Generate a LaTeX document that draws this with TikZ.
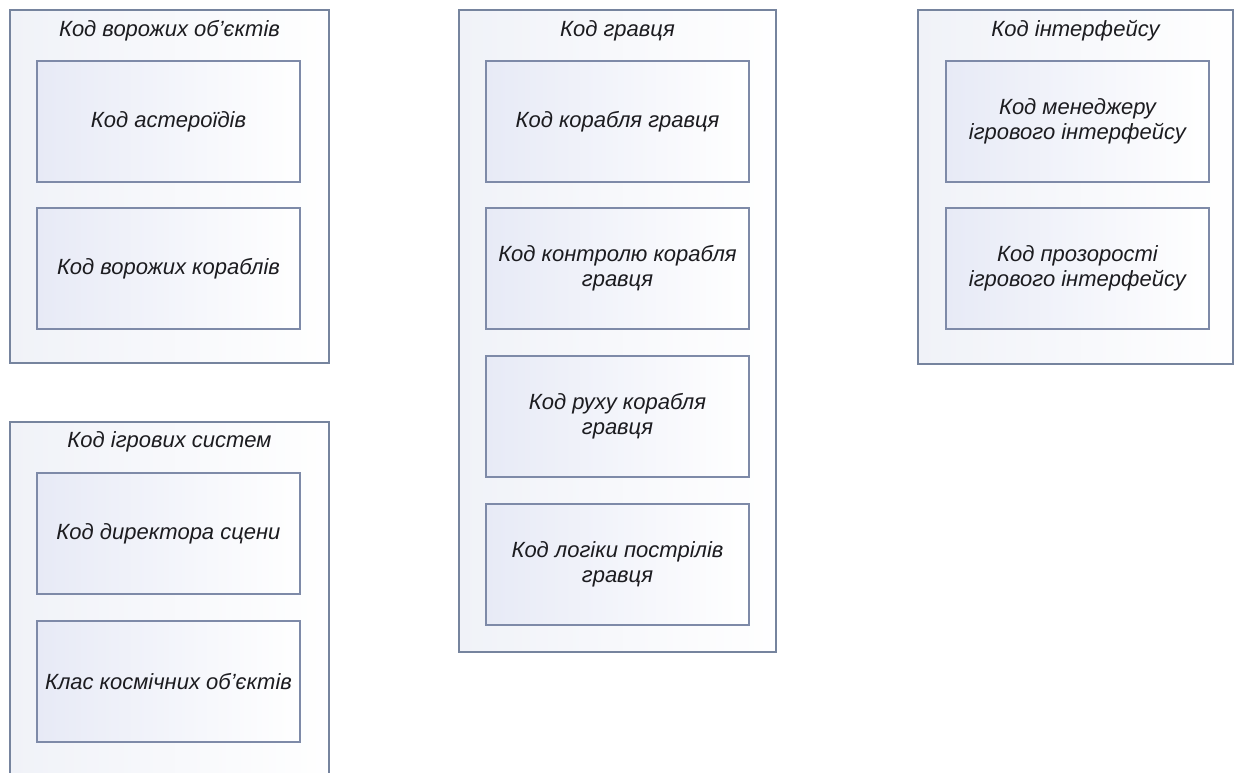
\documentclass[tikz,border=0pt]{standalone}
\usepackage{fontspec}
\setmainfont{Liberation Sans}
\begin{document}
\definecolor{frame}{RGB}{118,132,158}
\definecolor{boxedge}{RGB}{126,138,168}
\definecolor{panelfill}{RGB}{240,242,248}
\definecolor{boxtint}{RGB}{231,234,246}
\definecolor{ink}{RGB}{28,28,32}
\begin{tikzpicture}[x=1bp,y=-1bp,
  panel/.style={draw=frame,line width=1.2bp,rectangle,inner sep=0pt,
    left color=panelfill,right color=white!97!panelfill},
  part/.style={draw=boxedge,line width=1.2bp,rectangle,inner sep=0pt,
    minimum width=263bp,minimum height=121bp,
    shading angle=-60,left color=boxtint,right color=white,
    font=\fontsize{22bp}{25bp}\selectfont\itshape,text=ink,align=center},
  label/.style={font=\fontsize{22bp}{25bp}\selectfont\itshape,text=ink,inner sep=0pt},
  title/.style={font=\fontsize{22bp}{25bp}\selectfont\itshape,text=ink,inner sep=0pt}]
\fill[white] (0,0) rectangle (1241,773);
\clip (0,0) rectangle (1241,773);
\useasboundingbox (0,0) rectangle (1241,773);

% enemy objects
\node[panel,minimum width=319bp,minimum height=353bp] (enemy) at (169.5,186.5) {};
\node[title] (enemyT) at (169.5,31) {Код ворожих об’єктів};
\node[part] (ast) at (168.5,121.5) {};
\node[label] (astL) at (168.5,122) {Код астероїдів};
\node[part] (ships) at (168.5,268.5) {};
\node[label] (shipsL) at (168.5,269) {Код ворожих кораблів};

% game systems (runs past the lower edge)
\node[panel,minimum width=319bp,minimum height=380bp] (sys) at (169.5,612) {};
\node[title] (sysT) at (169.5,442) {Код ігрових систем};
\node[part] (dir) at (168.5,533.5) {};
\node[label] (dirL) at (168.5,534) {Код директора сцени};
\node[part] (space) at (168.5,681.5) {};
\node[label] (spaceL) at (168.5,682) {Клас космічних об’єктів};

% player
\node[panel,minimum width=317bp,minimum height=642bp] (player) at (617.5,331) {};
\node[title] (playerT) at (617.5,31) {Код гравця};
\node[part] (pship) at (617.5,121.5) {};
\node[label] (pshipL) at (617.5,122) {Код корабля гравця};
\node[part] (pctl) at (617.5,268.5) {Код контролю корабля\\гравця};
\node[part] (pmove) at (617.5,416.5) {Код руху корабля\\гравця};
\node[part] (pshot) at (617.5,564.5) {Код логіки пострілів\\гравця};

% interface
\node[panel,minimum width=315bp,minimum height=354bp] (ui) at (1075.5,187) {};
\node[title] (uiT) at (1075.5,31) {Код інтерфейсу};
\node[part] (uimgr) at (1077.5,121.5) {Код менеджеру\\ігрового інтерфейсу};
\node[part] (uialpha) at (1077.5,268.5) {Код прозорості\\ігрового інтерфейсу};
\end{tikzpicture}
\end{document}
